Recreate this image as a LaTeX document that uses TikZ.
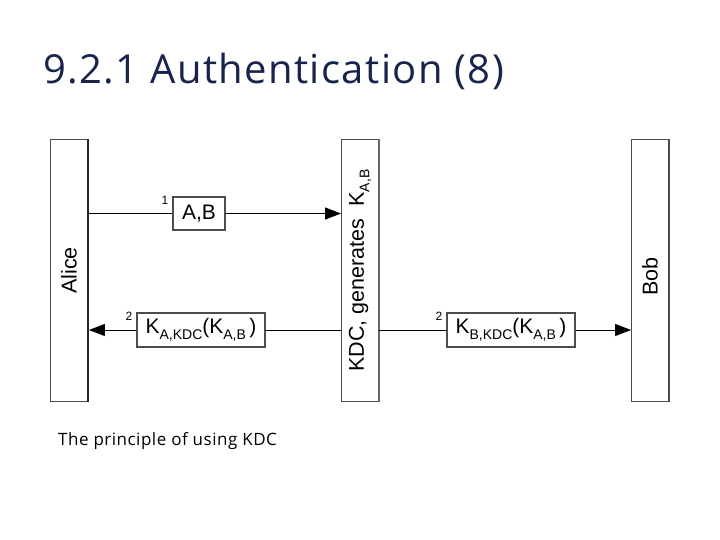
\documentclass[tikz,border=0pt]{standalone}
\usepackage{fontspec}
\setmainfont{Liberation Sans}
\newfontfamily\titlefont[LetterSpace=3.5]{Open Sans}
\newfontfamily\capfont[LetterSpace=3]{Open Sans}
\usetikzlibrary{arrows.meta}
\definecolor{titleblue}{RGB}{24,36,76}
\newcommand\sbs[1]{\raisebox{-0.5ex}{\fontsize{14}{15}\selectfont #1}}
\tikzset{
  actor/.style={draw=black!70, line width=0.9pt, fill=white, minimum width=37pt, minimum height=262pt, inner sep=0pt},
  msg/.style={draw=black!70, line width=1.1pt, fill=white, inner sep=0pt, font=\fontsize{21}{23}\selectfont},
  num/.style={font=\fontsize{12}{12}\selectfont, inner sep=0pt},
  lbl/.style={rotate=90, font=\fontsize{21.5}{23}\selectfont, inner sep=0pt},
  flow/.style={line width=0.9pt},
  tip/.style={-{Triangle[length=16pt,width=12pt]}}
}
\begin{document}
\begin{tikzpicture}[x=1pt,y=-1pt]
\useasboundingbox (0,0) rectangle (720,540);
\node[anchor=base west, inner sep=0pt, text=titleblue, font=\titlefont\fontsize{40}{44}\selectfont] (title) at (43,84) {9.2.1 Authentication (8)};
% actors
\node[actor] (alice) at (69,270.5) {};
\node[actor] (kdc) at (360,270.5) {};
\node[actor] (bob) at (650,270.5) {};
\draw[line width=2pt, black!85] (alice.north east) -- (alice.south east);
\draw[line width=1.8pt, black!60] (kdc.north east) -- (kdc.south east);
\draw[line width=1.4pt, black!70] (bob.north east) -- (bob.south east);
\node[lbl] (alicet) at (alice) {Alice};
\node[lbl] (kdct) at (kdc) {KDC, generates\ \ K\sbs{A,B}};
\node[lbl] (bobt) at ([yshift=-6pt]bob) {Bob};
% messages
\node[msg, minimum width=52pt, minimum height=33pt] (m1) at (199,213.5) {A,B};
\node[num, anchor=south east] (n1) at ([xshift=-4pt,yshift=-8pt]m1.north west) {1};
\node[msg, minimum width=128pt, minimum height=34pt] (m2) at (201,330) {K\sbs{A,KDC}(K\sbs{A,B}\,)};
\node[num, anchor=south east] (n2) at ([xshift=-4pt,yshift=-8pt]m2.north west) {2};
\node[msg, minimum width=128pt, minimum height=34pt] (m3) at (511,330) {K\sbs{B,KDC}(K\sbs{A,B}\,)};
\node[num, anchor=south east] (n3) at ([xshift=-4pt,yshift=-8pt]m3.north west) {2};
\draw[flow] (alice.east |- m1) -- (m1.west);
\draw[flow,tip] (m1.east) -- (kdc.west |- m1);
\draw[flow] (kdc.west |- m2) -- (m2.east);
\draw[flow,tip] (m2.west) -- ([xshift=1pt]alice.east |- m2);
\draw[flow] (kdc.east |- m3) -- (m3.west);
\draw[flow,tip] (m3.east) -- (bob.west |- m3);
% caption
\node[anchor=base west, inner sep=0pt, font=\capfont\fontsize{17}{19}\selectfont] (cap) at (58,445) {The principle of using KDC};
\end{tikzpicture}
\end{document}
